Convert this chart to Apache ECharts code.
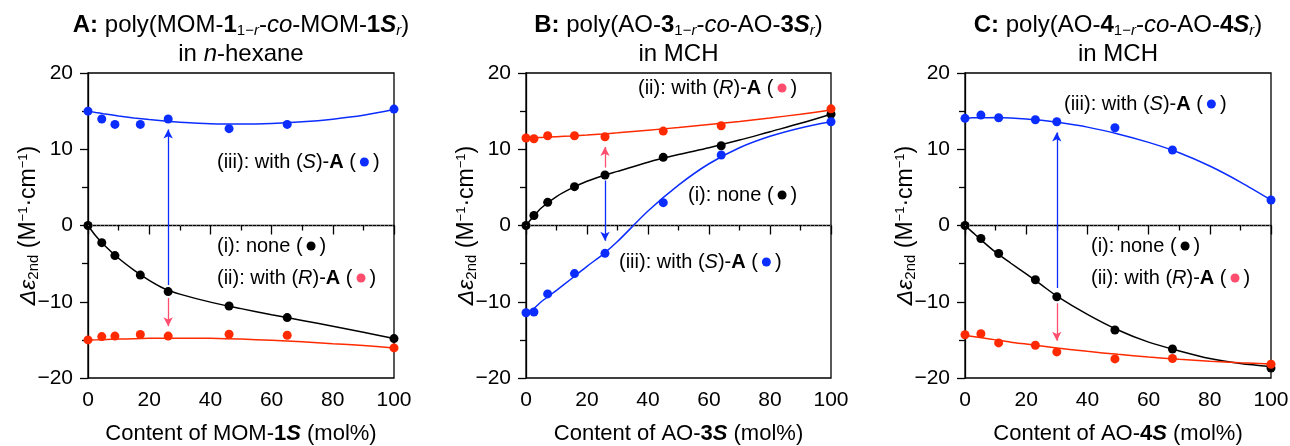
<!DOCTYPE html>
<html>
<head>
<meta charset="utf-8">
<script src="https://cdn.jsdelivr.net/npm/echarts@6/dist/echarts.min.js"></script>
<style>
  html, body { margin: 0; padding: 0; background: #fff; }
  #chart { width: 1290px; height: 446px; }
</style>
</head>
<body>
<div id="chart"></div>
<script>
// measured points, content (mol%) vs delta eps 2nd
const xA = [0, 4.5, 8.8, 17.1, 26.2, 46.1, 65.1, 100];
const noneA = [0, -2.25, -3.95, -6.5, -8.67, -10.55, -12.08, -14.83];
const withRA = [-15.0, -14.57, -14.5, -14.3, -14.5, -14.26, -14.4, -16.05];
const withSA = [15.0, 13.96, 13.26, 13.26, 13.96, 12.7, 13.26, 15.27];

const xB = [0, 2.6, 7.1, 15.9, 25.9, 45.0, 64.0, 100];
const noneB = [0, 1.31, 3.04, 5.09, 6.62, 8.94, 10.46, 14.6];
const withRB = [11.47, 11.38, 11.77, 11.77, 11.64, 12.38, 13.08, 15.3];
const withSB = [-11.45, -11.34, -8.97, -6.31, -3.65, 3.0, 9.24, 13.6];

const xC = [0, 5.2, 11, 23, 30, 49, 67.8, 100];
const noneC = [0, -1.7, -3.67, -7.12, -9.34, -13.7, -16.2, -18.7];
const withRC = [-14.33, -14.2, -15.4, -15.7, -16.58, -17.5, -17.44, -18.2];
const withSC = [14.05, 14.48, 14.13, 13.87, 13.6, 12.82, 9.9, 3.34];

// fitted curves at these contents
const fitX = [0, 2.5, 5, 10, 15, 20, 25, 30, 40, 50, 60, 70, 80, 90, 100];
const fitNoneA = [0, -1.35, -2.45, -4.3, -5.85, -7.2, -8.3, -9.0, -10.05, -10.9, -11.7, -12.45, -13.2, -14.0, -14.83];
const fitRA = [-15.05, -15.0, -14.97, -14.9, -14.85, -14.8, -14.78, -14.78, -14.8, -14.9, -15.05, -15.25, -15.5, -15.75, -16.05];
const fitSA = [15.0, 14.83, 14.67, 14.37, 14.11, 13.89, 13.7, 13.55, 13.35, 13.3, 13.38, 13.6, 13.95, 14.45, 15.2];
const fitNoneB = [0, 1.2, 2.3, 3.8, 4.9, 5.8, 6.5, 7.1, 8.3, 9.3, 10.2, 11.2, 12.3, 13.4, 14.6];
const fitRB = [11.45, 11.5, 11.55, 11.65, 11.75, 11.87, 12.0, 12.15, 12.5, 12.85, 13.25, 13.65, 14.1, 14.6, 15.15];
const fitSB = [-11.5, -10.9, -10.0, -8.5, -6.95, -5.35, -3.85, -2.1, 1.9, 5.3, 8.1, 10.2, 11.7, 12.8, 13.6];
const fitNoneC = [0, -0.9, -1.8, -3.5, -4.95, -6.35, -7.8, -9.25, -11.65, -13.7, -15.3, -16.45, -17.45, -18.1, -18.5];
const fitRC = [-14.4, -14.55, -14.7, -15.0, -15.3, -15.55, -15.8, -16.05, -16.5, -16.9, -17.25, -17.55, -17.8, -18.0, -18.15];
const fitSC = [14.1, 14.12, 14.14, 14.15, 14.1, 13.98, 13.8, 13.55, 12.9, 12.0, 10.9, 9.55, 7.8, 5.7, 3.35];

// arrows: [x, from, to] for the (S)-A shift and the (R)-A shift
const arrowSA = [26.2, -7.8, 12.6];
const arrowRA = [26.2, -9.5, -13.2];
const arrowSB = [25.9, 5.9, -2.0];
const arrowRB = [25.9, 7.6, 10.3];
const arrowSC = [30, -8.2, 12.2];
const arrowRC = [30, -10.2, -15.1];

const xTicks = [0, 100, 20];
const yTicks = [-20, 20, 10];

const FONT = '"Liberation Sans", Arial, Helvetica, sans-serif';
const BLACK = '#000000';
const RED = '#ff2a00';
const BLUE = '#0b2dff';
const PINK = '#ff4d6d';

const grids = [
    { left: 88, top: 73, width: 306, height: 305 },
    { left: 526, top: 73, width: 305, height: 305 },
    { left: 965, top: 73, width: 306, height: 305 }
];

const panels = [
    { x: xA, none: noneA, withR: withRA, withS: withSA, fitNone: fitNoneA, fitR: fitRA, fitS: fitSA, arrowS: arrowSA, arrowR: arrowRA, xName: 'Content of MOM-{b|1}{bi|S} (mol%)' },
    { x: xB, none: noneB, withR: withRB, withS: withSB, fitNone: fitNoneB, fitR: fitRB, fitS: fitSB, arrowS: arrowSB, arrowR: arrowRB, xName: 'Content of AO-{b|3}{bi|S} (mol%)' },
    { x: xC, none: noneC, withR: withRC, withS: withSC, fitNone: fitNoneC, fitR: fitRC, fitS: fitSC, arrowS: arrowSC, arrowR: arrowRC, xName: 'Content of AO-{b|4}{bi|S} (mol%)' }
];

const richBase = {
    b: { fontFamily: FONT, fontWeight: 'bold', fontSize: 22, color: '#000' },
    bi: { fontFamily: FONT, fontWeight: 'bold', fontStyle: 'italic', fontSize: 22, color: '#000' },
    i: { fontFamily: FONT, fontStyle: 'italic', fontSize: 22, color: '#000' }
};

const yNameRich = {
    i: { fontFamily: FONT, fontStyle: 'italic', fontSize: 23, color: '#000' },
    sub: { fontFamily: FONT, fontSize: 15, color: '#000', padding: [10, 0, 0, 0] },
    sup: { fontFamily: FONT, fontSize: 13, color: '#000', padding: [0, 0, 10, 0] }
};

const pts = (xs, ys) => xs.map((x, i) => [x, ys[i]]);

const minusFmt = v => (v < 0 ? '\u2212' + (-v) : String(v));

const xAxes = grids.map((g, i) => ({
    gridIndex: i,
    type: 'value',
    min: xTicks[0], max: xTicks[1], interval: xTicks[2],
    axisLine: { show: true, lineStyle: { color: '#000', width: 1.3 } },
    axisTick: { show: true, length: 9, lineStyle: { color: '#000', width: 1.3 } },
    minorTick: { show: true, splitNumber: 2, length: 5, lineStyle: { color: '#000', width: 1.3 } },
    splitLine: { show: false },
    axisLabel: { fontFamily: FONT, fontSize: 21, color: '#000', margin: 12 },
    name: panels[i].xName,
    nameLocation: 'middle',
    nameGap: 45,
    nameMoveOverlap: false,
    nameTextStyle: { fontFamily: FONT, fontSize: 22, color: '#000', rich: richBase }
}));

const yAxes = grids.map((g, i) => ({
    gridIndex: i,
    type: 'value',
    min: yTicks[0], max: yTicks[1], interval: yTicks[2],
    axisLine: { show: true, lineStyle: { color: '#000', width: 1.3 } },
    axisTick: { show: true, length: 8, lineStyle: { color: '#000', width: 1.3 } },
    minorTick: { show: true, splitNumber: 2, length: 6, lineStyle: { color: '#000', width: 1.3 } },
    splitLine: { show: false },
    axisLabel: { fontFamily: FONT, fontSize: 21, color: '#000', margin: 15, formatter: minusFmt },
    name: '{i|\u0394\u03b5}{sub|2nd} (M{sup|\u22121}\u00b7cm{sup|\u22121})',
    nameLocation: 'middle',
    nameRotate: 90,
    nameGap: 47,
    nameMoveOverlap: false,
    nameTextStyle: { fontFamily: FONT, fontSize: 23, color: '#000', rich: yNameRich }
}));

const arrowMark = (a, color) => ({
    silent: true,
    symbol: ['none', 'arrow'],
    symbolSize: [7, 9],
    label: { show: false },
    lineStyle: { color: color, width: 1.3, type: 'solid' },
    data: [[{ coord: [a[0], a[1]] }, { coord: [a[0], a[2]] }]]
});

const series = [];
panels.forEach((p, i) => {
    const fit = (ys, color) => ({
        type: 'line', xAxisIndex: i, yAxisIndex: i,
        data: pts(fitX, ys), smooth: 0.3, symbol: 'none', clip: false,
        lineStyle: { color: color, width: 1.5 }, z: 2
    });
    const dots = (ys, color) => ({
        type: 'scatter', xAxisIndex: i, yAxisIndex: i, clip: false,
        data: pts(p.x, ys), symbolSize: 9, itemStyle: { color: color, opacity: 1 }, z: 4
    });
    series.push(fit(p.fitNone, BLACK));
    series.push(fit(p.fitR, RED));
    series.push(fit(p.fitS, BLUE));
    series.push(Object.assign(dots(p.none, BLACK), {
        markLine: {
            silent: true, symbol: 'none', label: { show: false },
            lineStyle: { type: [1, 3], color: '#666', width: 1 },
            data: [{ yAxis: 0 }]
        }
    }));
    series.push(Object.assign(dots(p.withR, RED), { markLine: arrowMark(p.arrowR, PINK) }));
    series.push(Object.assign(dots(p.withS, BLUE), { markLine: arrowMark(p.arrowS, BLUE) }));
});

const titleRich = {
    b: { fontFamily: FONT, fontWeight: 'bold', fontSize: 24, lineHeight: 29 },
    i: { fontFamily: FONT, fontStyle: 'italic', fontSize: 24, lineHeight: 29 },
    bi: { fontFamily: FONT, fontWeight: 'bold', fontStyle: 'italic', fontSize: 24, lineHeight: 29 },
    sub: { fontFamily: FONT, fontSize: 15, padding: [10, 0, 0, 0], lineHeight: 29 },
    subi: { fontFamily: FONT, fontStyle: 'italic', fontSize: 15, padding: [10, 0, 0, 0], lineHeight: 29 }
};

const titles = [
    '{b|A:} poly(MOM-{b|1}{sub|1\u2212}{subi|r}-{i|co}-MOM-{b|1}{bi|S}{subi|r})\nin {i|n}-hexane',
    '{b|B:} poly(AO-{b|3}{sub|1\u2212}{subi|r}-{i|co}-AO-{b|3}{bi|S}{subi|r})\nin MCH',
    '{b|C:} poly(AO-{b|4}{sub|1\u2212}{subi|r}-{i|co}-AO-{b|4}{bi|S}{subi|r})\nin MCH'
];

const annRich = {
    i: { fontFamily: FONT, fontStyle: 'italic', fontSize: 20 },
    b: { fontFamily: FONT, fontWeight: 'bold', fontSize: 20 },
    dk: { width: 9, height: 9, borderRadius: 5, backgroundColor: BLACK },
    dr: { width: 9, height: 9, borderRadius: 5, backgroundColor: PINK },
    ds: { width: 9, height: 9, borderRadius: 5, backgroundColor: BLUE }
};
const annNone = '(i): none (\u2009{dk|}\u2009)';
const annR = '(ii): with ({i|R})-{b|A} (\u2009{dr|}\u2009)';
const annS = '(iii): with ({i|S})-{b|A} (\u2009{ds|}\u2009)';

const annotations = [
    [annS, 217, 162], [annNone, 217, 246], [annR, 217, 278],
    [annR, 638, 88], [annNone, 688, 195], [annS, 619, 262],
    [annS, 1064, 104], [annNone, 1091, 246], [annR, 1091, 278]
];

const graphic = [];
titles.forEach((t, i) => {
    graphic.push({
        type: 'text',
        x: grids[i].left + grids[i].width / 2,
        y: 11,
        style: {
            text: t, rich: titleRich, fontFamily: FONT, fontSize: 24, lineHeight: 29,
            fill: '#000', align: 'center', verticalAlign: 'top'
        }
    });
});
annotations.forEach(a => {
    graphic.push({
        type: 'text', x: a[1], y: a[2],
        style: {
            text: a[0], rich: annRich, fontFamily: FONT, fontSize: 20,
            fill: '#000', align: 'left', verticalAlign: 'middle'
        }
    });
});

const chart = echarts.init(document.getElementById('chart'), null, { renderer: 'canvas' });
chart.setOption({
    backgroundColor: '#fff',
    animation: false,
    grid: grids.map(g => Object.assign({
        show: true, borderColor: '#000', borderWidth: 1.3, backgroundColor: 'transparent',
        containLabel: false, outerBoundsMode: 'none'
    }, g)),
    xAxis: xAxes,
    yAxis: yAxes,
    series: series,
    graphic: graphic
});
</script>
</body>
</html>
